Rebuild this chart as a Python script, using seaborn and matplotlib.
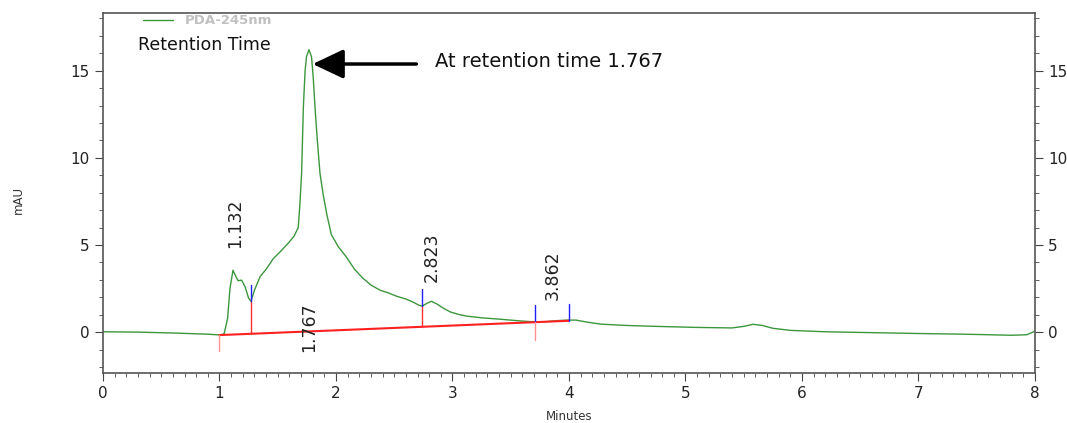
import matplotlib
matplotlib.use("Agg")
import matplotlib.pyplot as plt
from matplotlib.ticker import MultipleLocator
import seaborn as sns
import pandas as pd

# chromatogram trace (minutes, mAU)
minutes = [0.0, 0.3, 0.6, 0.9, 1.0, 1.04, 1.07, 1.09, 1.116, 1.14, 1.16, 1.19,
           1.22, 1.25, 1.27, 1.30, 1.35, 1.40, 1.46, 1.52, 1.59, 1.64, 1.676,
           1.69, 1.705, 1.72, 1.735, 1.747, 1.768, 1.79, 1.805, 1.82, 1.84,
           1.863, 1.89, 1.92, 1.96, 2.02, 2.09, 2.16, 2.23, 2.30, 2.38, 2.45,
           2.52, 2.60, 2.66, 2.71, 2.74, 2.78, 2.82, 2.87, 2.92, 2.98, 3.05,
           3.12, 3.25, 3.41, 3.55, 3.69, 3.8, 3.9, 3.98, 4.06, 4.15, 4.27, 4.5,
           4.8, 5.1, 5.4, 5.5, 5.58, 5.66, 5.75, 5.9, 6.2, 6.6, 7.0, 7.4, 7.8,
           7.93, 8.0]
mau = [0.02, 0.0, -0.05, -0.12, -0.16, -0.1, 0.8, 2.5, 3.55, 3.2, 2.95, 2.98,
       2.6, 1.95, 1.77, 2.4, 3.2, 3.6, 4.2, 4.6, 5.1, 5.5, 6.0,
       7.3, 9.1, 12.9, 15.0, 15.8, 16.2, 15.8, 14.6, 12.9, 11.0,
       9.1, 7.9, 6.8, 5.6, 4.9, 4.3, 3.6, 3.1, 2.7, 2.4, 2.25,
       2.06, 1.9, 1.73, 1.55, 1.49, 1.65, 1.77, 1.6, 1.38, 1.16, 1.02,
       0.92, 0.82, 0.74, 0.66, 0.59, 0.6, 0.66, 0.69, 0.69, 0.58, 0.46, 0.38,
       0.32, 0.27, 0.24, 0.33, 0.45, 0.38, 0.22, 0.1, 0.02, -0.03, -0.08, -0.12, -0.18,
       -0.15, 0.05]

# integration baseline (start, end)
base_x = [1.0, 4.0]
base_y = [-0.17, 0.65]

# peak boundaries
drop_x = [1.27, 2.74]
drop_y = [1.77, 1.49]
blue_x = [1.27, 2.74, 3.71, 4.0]
blue_lo = [1.77, 1.49, 0.6, 0.65]
blue_hi = [2.7, 2.46, 1.55, 1.6]
start_x = [1.0, 3.71]
start_hi = [-0.17, 0.6]
start_lo = [-1.1, -0.45]

# peak labels
label_text = ["1.132", "1.767", "2.823", "3.862"]
label_x = [1.132, 1.767, 2.823, 3.862]
label_y = [4.8, -1.15, 2.86, 1.83]

df = pd.DataFrame({"Minutes": minutes, "mAU": mau})

sns.set_style("ticks")
fig = plt.figure(figsize=(10.67, 4.23), dpi=100)
ax = fig.add_axes([0.0965, 0.118, 0.8735, 0.851])

sns.lineplot(data=df, x="Minutes", y="mAU", ax=ax, color="#3c973c",
             linewidth=1.0, sort=False, label="PDA-245nm")

ax.plot(base_x, base_y, color="#ff2020", linewidth=1.5)
for x, y in zip(drop_x, drop_y):
    yb = base_y[0] + (x - base_x[0]) * (base_y[1] - base_y[0]) / (base_x[1] - base_x[0])
    ax.plot([x, x], [yb, y], color="#ff3030", linewidth=1.0)
for x, lo, hi in zip(blue_x, blue_lo, blue_hi):
    ax.plot([x, x], [lo, hi], color="#2020ff", linewidth=1.0)
for x, hi, lo in zip(start_x, start_hi, start_lo):
    ax.plot([x, x], [lo, hi], color="#ff9090", linewidth=1.0)

for t, x, y in zip(label_text, label_x, label_y):
    ax.text(x, y, t, rotation=90, ha="center", va="bottom", fontsize=12.5,
            color="#222222")

ax.annotate("", xy=(1.80, 15.38), xytext=(2.69, 15.38),
            arrowprops=dict(arrowstyle="-|>,head_length=1.9,head_width=0.9",
                            color="black", lw=2.5, shrinkA=0, shrinkB=0))
ax.text(2.85, 15.5, "At retention time 1.767", fontsize=14, va="center",
        color="#111111")

ax.set_xlim(0, 8)
ax.set_ylim(-2.35, 18.3)
ax.xaxis.set_major_locator(MultipleLocator(1))
ax.xaxis.set_minor_locator(MultipleLocator(0.1))
ax.yaxis.set_major_locator(MultipleLocator(5))
ax.yaxis.set_minor_locator(MultipleLocator(1))
ax.tick_params(which="both", direction="out", colors="#444444",
               labelcolor="#222222", labelsize=11, right=True, labelright=True)
ax.tick_params(which="major", length=6)
ax.tick_params(which="minor", length=3)
for s in ax.spines.values():
    s.set_color("#555555")
    s.set_linewidth(1.2)

ax.set_xlabel("Minutes", fontsize=8.5, color="#333333", labelpad=6)
ax.set_ylabel("")
fig.text(18 / 1067, 1 - 200 / 423, "mAU", rotation=90, fontsize=8.5,
         color="#333333", ha="center", va="center")

leg = ax.legend(loc="upper left", bbox_to_anchor=(0.03, 1.03), frameon=False,
                fontsize=9.5, handlelength=2.3, handletextpad=0.9)
for txt in leg.get_texts():
    txt.set_color("#c0c0c0")
    txt.set_fontweight("bold")

fig.text(0.129, 1 - 45 / 423, "Retention Time", fontsize=12.5, color="#111111",
         va="center")

fig.savefig("out.png", dpi=100)
